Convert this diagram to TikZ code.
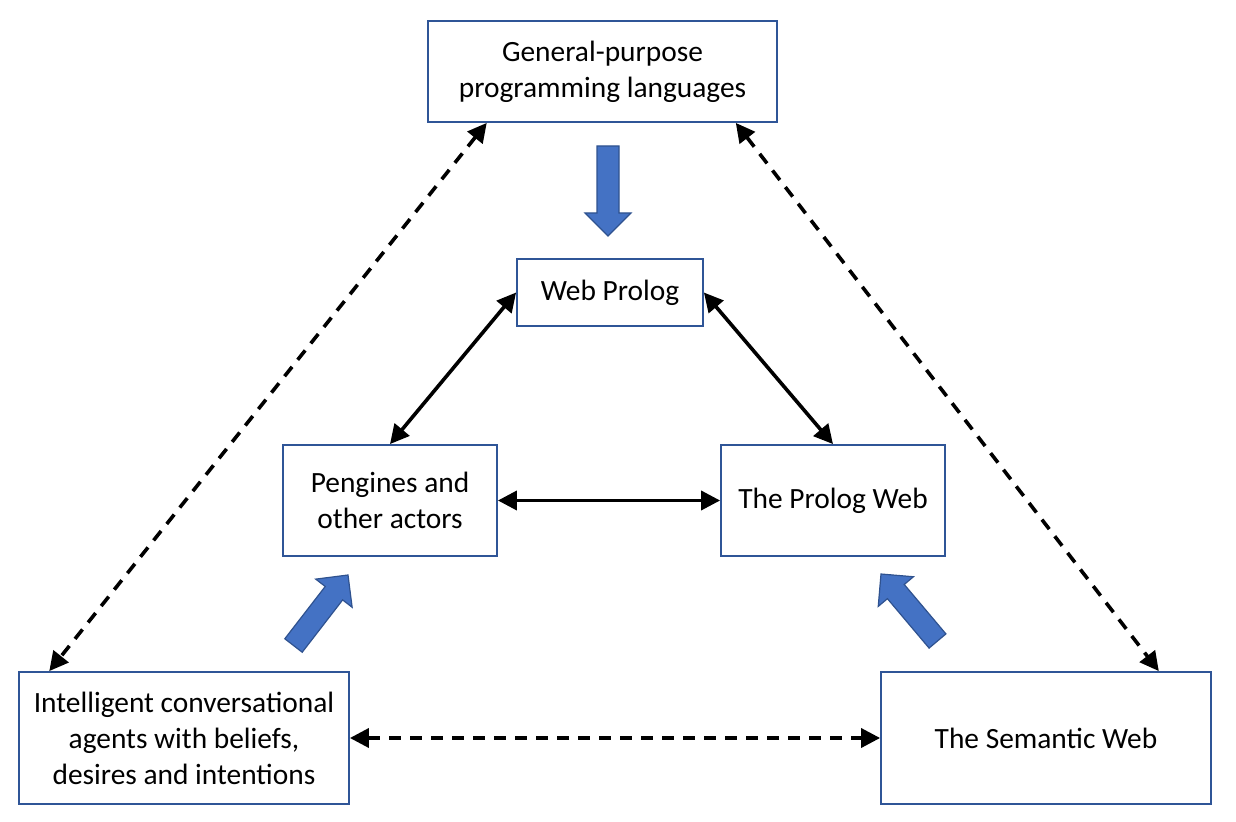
\documentclass[tikz,border=0pt]{standalone}
\usepackage{fontspec}
\setmainfont{Carlito}
\usetikzlibrary{arrows.meta,calc}
\definecolor{boxblue}{HTML}{2F5597}
\definecolor{arrfill}{HTML}{4472C4}
\definecolor{arrdraw}{HTML}{2F528F}
\newcommand\blockarr[2]{%
  \coordinate (bh) at ($(#2)!11.5pt!(#1)$);
  \filldraw[blockarrow] ($(#1)!5.5pt!90:(#2)$) -- ($(bh)!5.5pt!90:(#2)$) -- ($(bh)!11.5pt!90:(#2)$) -- (#2)
    -- ($(bh)!11.5pt!-90:(#2)$) -- ($(bh)!5.5pt!-90:(#2)$) -- ($(#1)!5.5pt!-90:(#2)$) -- cycle;}
\begin{document}
\begin{tikzpicture}[x=0.5pt,y=-0.5pt,
  box/.style={draw=boxblue,line width=0.9pt,fill=white,align=center,inner sep=0pt,
     font=\fontsize{14.7}{18}\selectfont},
  solidarr/.style={line width=1.8pt,{Triangle[length=9.5pt,width=9.5pt]}-{Triangle[length=9.5pt,width=9.5pt]}},
  dasharr/.style={line width=1.8pt,dash pattern=on 6pt off 4.5pt,{Triangle[length=9.5pt,width=9.5pt]}-{Triangle[length=9.5pt,width=9.5pt]}},
  blockarrow/.style={fill=arrfill,draw=arrdraw,line width=0.6pt,line join=miter}]
\useasboundingbox (0,0) rectangle (1236,822);
\node[box,minimum width=174.5pt,minimum height=50.5pt] (gp) at (602.5,71.5) {General-purpose\\programming languages};
\node[box,minimum width=93pt,minimum height=33.5pt] (wp) at (610,292.5) {Web Prolog};
\node[box,minimum width=107pt,minimum height=55.5pt] (pe) at (390,500.5) {Pengines and\\other actors};
\node[box,minimum width=112pt,minimum height=55.5pt] (pw) at (833,500.5) {The Prolog Web};
\node[box,minimum width=165pt,minimum height=66pt] (ic) at (184,738) {Intelligent conversational\\agents with beliefs,\\desires and intentions};
\node[box,minimum width=165pt,minimum height=66pt] (sw) at (1046,738) {The Semantic Web};
% solid connectors
\draw[solidarr] (wp.west) -- (pe.north);
\draw[solidarr] (wp.east) -- (pw.north);
\draw[solidarr] (pe.east) -- (pw.west);
% dashed connectors
\draw[dasharr] ($(gp.south west)!0.17!(gp.south east)$) -- ($(ic.north west)!0.094!(ic.north east)$);
\draw[dasharr] ($(gp.south west)!0.88!(gp.south east)$) -- ($(sw.north west)!0.84!(sw.north east)$);
\draw[dasharr] (ic.east) -- (sw.west);
% block arrows
\coordinate (a1) at (608,146); \coordinate (a2) at (608,236);
\blockarr{a1}{a2}
\coordinate (b1) at (293.5,645.5); \coordinate (b2) at (348,575);
\blockarr{b1}{b2}
\coordinate (c1) at (937.5,641); \coordinate (c2) at (881,574);
\blockarr{c1}{c2}
\end{tikzpicture}
\end{document}
